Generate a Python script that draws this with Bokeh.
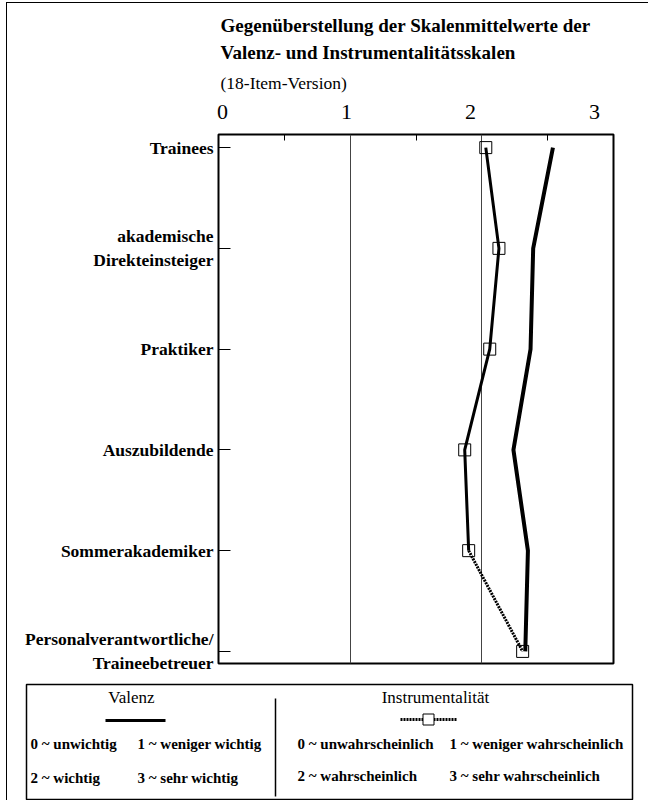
from bokeh.plotting import figure
from bokeh.models import Range1d, FixedTicker, Title, LinearAxis
from bokeh.layouts import column, row
from bokeh.embed import file_html
from bokeh.resources import INLINE
from bokeh.core.properties import value

# ---------------- data ----------------
categories = [
    "Trainees",
    "akademische\nDirekteinsteiger",
    "Praktiker",
    "Auszubildende",
    "Sommerakademiker",
    "Personalverantwortliche/\nTraineebetreuer",
]
valenz = [2.54, 2.39, 2.37, 2.24, 2.35, 2.33]
instrumentalitaet = [2.03, 2.13, 2.06, 1.87, 1.90, 2.31]
x_ticks = [0, 1, 2, 3]
minor_x_ticks = [0.5, 1.5, 2.5]
grid_x = [1, 2]
title_line1 = "Gegenüberstellung der Skalenmittelwerte der"
title_line2 = "Valenz- und Instrumentalitätsskalen"
subtitle = "(18-Item-Version)"
legend_heads = ["Valenz", "Instrumentalität"]
legend_valenz = ["0 ~ unwichtig", "1 ~ weniger wichtig", "2 ~ wichtig", "3 ~ sehr wichtig"]
legend_instr = ["0 ~ unwahrscheinlich", "1 ~ weniger wahrscheinlich",
                "2 ~ wahrscheinlich", "3 ~ sehr wahrscheinlich"]

SERIF = "Liberation Serif"
ypos = list(range(len(categories)))

# ---------------- main chart ----------------
W, H = 641, 680
p = figure(width=W, height=H, x_range=Range1d(0, 3), y_range=Range1d(5.12, -0.13),
           x_axis_location="above", output_backend="svg", toolbar_location=None,
           min_border_left=211, min_border_right=35, min_border_top=131, min_border_bottom=20)
p.background_fill_color = "white"
p.border_fill_color = "white"
p.outline_line_color = "black"
p.outline_line_width = 2

# axis carrying the small inward ticks (labels suppressed)
p.xaxis.ticker = FixedTicker(ticks=x_ticks, minor_ticks=minor_x_ticks)
p.xaxis.major_label_overrides = {t: "" for t in x_ticks}
p.xaxis.major_label_text_font_size = "1px"
p.xaxis.major_label_standoff = 0
p.xaxis.major_tick_in = 0
p.xaxis.major_tick_out = 0
p.xaxis.minor_tick_in = 6
p.xaxis.minor_tick_out = 0
p.xaxis.minor_tick_line_color = "black"
p.xaxis.axis_line_color = None

# label row of the scan (slightly compressed against the frame)
p.extra_x_ranges = {"lab": Range1d(-0.032, 3.153)}
lab_axis = LinearAxis(x_range_name="lab", ticker=FixedTicker(ticks=x_ticks, minor_ticks=[]),
                      major_tick_in=0, major_tick_out=0, minor_tick_in=0, minor_tick_out=0,
                      axis_line_color=None, major_label_standoff=16,
                      major_label_text_font=SERIF, major_label_text_font_size="22px",
                      major_label_text_color="black")
p.add_layout(lab_axis, "above")

p.add_layout(Title(text=subtitle, align="left", offset=2, standoff=17,
                   text_font=SERIF, text_font_size="17.5px", text_font_style="normal",
                   text_color="black"), "above")
p.add_layout(Title(text=title_line2, align="left", offset=2, standoff=0,
                   text_font=SERIF, text_font_size="19px", text_font_style="bold",
                   text_color="black"), "above")
p.add_layout(Title(text=title_line1, align="left", offset=2, standoff=7,
                   text_font=SERIF, text_font_size="19px", text_font_style="bold",
                   text_color="black"), "above")

p.yaxis.ticker = FixedTicker(ticks=ypos, minor_ticks=[])
p.yaxis.major_label_overrides = {i: c for i, c in zip(ypos, categories)}
p.yaxis.major_label_text_font = SERIF
p.yaxis.major_label_text_font_style = "bold"
p.yaxis.major_label_text_font_size = "17.5px"
p.yaxis.major_label_text_color = "black"
p.yaxis.major_label_standoff = 5
p.yaxis.major_tick_in = 12
p.yaxis.major_tick_out = 0
p.yaxis.major_tick_line_color = "black"
p.yaxis.axis_line_color = None

p.xgrid.ticker = FixedTicker(ticks=grid_x)
p.xgrid.grid_line_color = "#444444"
p.xgrid.grid_line_width = 1
p.ygrid.grid_line_color = None

p.line(valenz, ypos, line_width=4, line_color="black")
p.line(instrumentalitaet[:5], ypos[:5], line_width=3, line_color="black")
p.line(instrumentalitaet[4:], ypos[4:], line_width=3, line_color="black", line_dash="2 1")
p.scatter(instrumentalitaet, ypos, marker="square", size=12, fill_color=None,
          line_color="black", line_width=1)

# ---------------- legend box ----------------
leg = figure(width=W, height=117, x_range=Range1d(26, 632), y_range=Range1d(799, 684),
             x_axis_location=None, y_axis_location=None,
             output_backend="svg", toolbar_location=None,
             min_border_left=19, min_border_right=16, min_border_top=1, min_border_bottom=1)
leg.grid.grid_line_color = None
leg.outline_line_color = "black"
leg.outline_line_width = 1.5
leg.background_fill_color = "white"
leg.border_fill_color = "white"

leg.text(x=[131, 435], y=[697, 697], text=legend_heads, text_font=value(SERIF),
         text_font_size="17px", text_align="center", text_baseline="middle", text_color="black")
leg.line([105, 165], [720, 720], line_width=3, line_color="black")
leg.line([400, 457], [719, 719], line_width=3, line_color="black", line_dash="2 1")
leg.scatter([428], [719], marker="square", size=11, fill_color="white", line_color="black", line_width=1)
leg.line([275, 275], [698, 796], line_width=1.5, line_color="black")
leg.text(x=[30, 137, 30, 137], y=[743, 743, 777, 777], text=legend_valenz, text_font=value(SERIF),
         text_font_style="bold", text_font_size="15px", text_baseline="middle", text_color="black")
leg.text(x=[297, 449, 297, 449], y=[743, 743, 775, 775], text=legend_instr, text_font=value(SERIF),
         text_font_style="bold", text_font_size="15px", text_baseline="middle", text_color="black")

layout = column(p, row(leg), spacing=0, styles={"margin-left": "6px", "margin-top": "2px",
                                                   "border-left": "1px solid black",
                                                   "border-top": "1px solid black"})

open("out.html", "w").write(file_html(layout, INLINE))
